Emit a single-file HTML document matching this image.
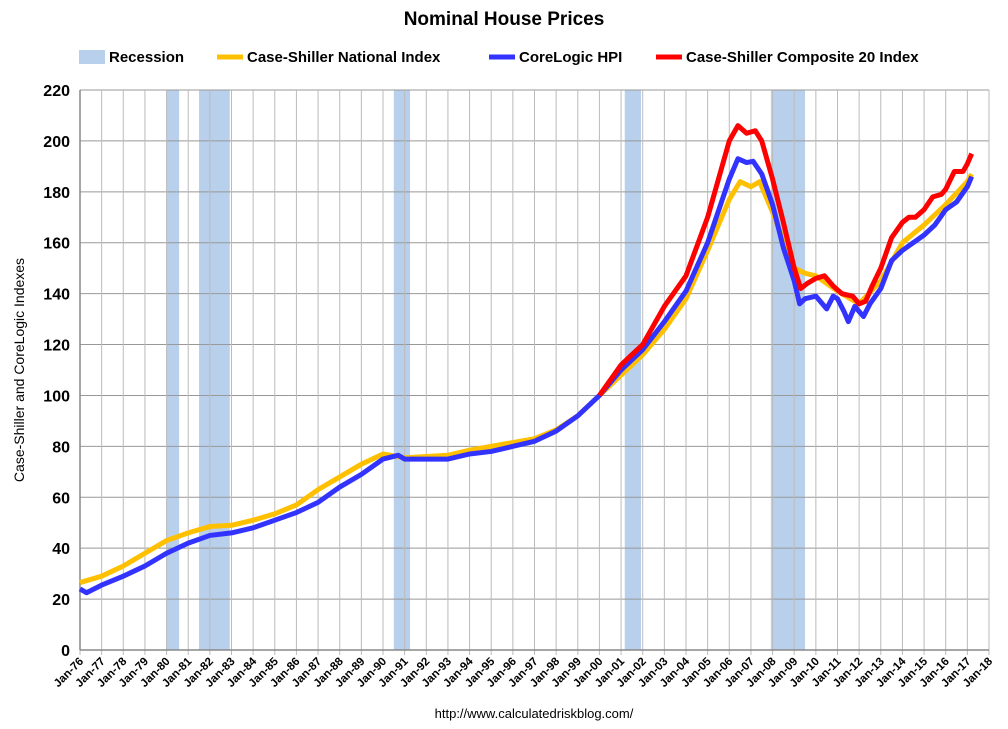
<!DOCTYPE html>
<html><head><meta charset="utf-8"><style>
body{margin:0;background:#fff;font-family:"Liberation Sans",sans-serif}
svg{display:block}
</style></head><body>
<svg id="chart" width="1008" height="729" xmlns="http://www.w3.org/2000/svg" font-family="Liberation Sans, sans-serif">
<text x="504" y="25" text-anchor="middle" font-size="19" font-weight="bold">Nominal House Prices</text>
<g font-size="15" font-weight="bold">
<rect x="79" y="50" width="26" height="14" fill="#b8d0ec"/>
<text x="109" y="62">Recession</text>
<line x1="217" y1="57" x2="243" y2="57" stroke="#ffc000" stroke-width="5"/>
<text x="247" y="62">Case-Shiller National Index</text>
<line x1="489" y1="57" x2="515" y2="57" stroke="#3333ff" stroke-width="5"/>
<text x="519" y="62">CoreLogic HPI</text>
<line x1="656" y1="57" x2="682" y2="57" stroke="#ff0000" stroke-width="5"/>
<text x="686" y="62">Case-Shiller Composite 20 Index</text>
</g>
<text transform="translate(24,370) rotate(-90)" text-anchor="middle" font-size="14">Case-Shiller and CoreLogic Indexes</text>
<text x="534" y="718" text-anchor="middle" font-size="13">http://www.calculatedriskblog.com/</text>
<g id="plot"></g>
</svg>
<script>
const recStart=[1980.0,1981.5,1990.5,2001.17,2007.92];
const recEnd=[1980.58,1982.92,1991.25,2001.92,2009.5];
const natX=[1976,1977,1978,1979,1980,1981,1982,1983,1984,1985,1986,1987,1988,1989,1990,1991,1992,1993,1994,1995,1996,1997,1998,1999,2000,2001,2002,2003,2004,2005,2006,2006.5,2007,2007.4,2008,2009,2009.5,2010,2011,2012,2013,2014,2015,2016,2017,2017.2];
const natY=[26.5,29,33,38,43,46,48.5,49,51,53.5,57,63,68,73,77,75.5,76,76.5,78.5,80,81.5,83,86.5,92,100,108,116,126,138,157,177,184,182,184,172,150,148,147,141,136,145,160,167,175,184,187];
const clX=[1976,1976.3,1977,1978,1979,1980,1981,1982,1983,1984,1985,1986,1987,1988,1989,1990,1990.7,1991,1992,1993,1994,1995,1996,1997,1998,1999,2000,2001,2002,2003,2004,2005,2006,2006.4,2006.8,2007.1,2007.5,2008,2008.5,2009,2009.25,2009.5,2010,2010.5,2010.8,2011,2011.3,2011.5,2011.8,2012,2012.2,2012.5,2013,2013.5,2014,2014.5,2015,2015.5,2016,2016.5,2017,2017.2];
const clY=[24,22.5,25.5,29,33,38,42,45,46,48,51,54,58,64,69,75,76.5,75,75,75,77,78,80,82,86,92,100,110,118,129,141,160,185,193,191.5,192,187,175,158,145,136,138,139,134,139,138,133,129,135,133,131,136,142,153,157,160,163,167,173,176,182,186];
const c20X=[2000,2001,2002,2003,2004,2005,2006,2006.4,2006.8,2007.2,2007.5,2008,2008.5,2009,2009.3,2009.6,2010,2010.4,2010.8,2011.2,2011.7,2012,2012.3,2012.6,2013,2013.5,2014,2014.3,2014.6,2015,2015.4,2015.8,2016,2016.4,2016.8,2017,2017.2];
const c20Y=[100,112,120,135,147,170,200,206,203,204,200,185,168,150,142,144,146,147,143,140,139,136,137,143,150,162,168,170,170,173,178,179,181,188,188,191,195];
const yTicks=[0,20,40,60,80,100,120,140,160,180,200,220];
const xYears=[];for(let y=1976;y<=2018;y++)xYears.push(y);

const L=80,R=989,T=90,B=650,NS="http://www.w3.org/2000/svg";
const sx=v=>L+(v-1976)/(2018-1976)*(R-L);
const sy=v=>B-v/220*(B-T);
const g=document.getElementById('plot');
function mk(t,a){const e=document.createElementNS(NS,t);for(const k in a)e.setAttribute(k,a[k]);g.appendChild(e);return e;}
recStart.forEach((s,i)=>{const r=mk('rect',{x:sx(s),y:T,width:sx(recEnd[i])-sx(s),height:B-T,fill:'#b8d0ec'});

});
yTicks.forEach(v=>{const l=mk('line',{x1:L,x2:R,y1:sy(v),y2:sy(v),stroke:'#999','stroke-width':1});


const t=mk('text',{x:L-10,y:sy(v)+6,'text-anchor':'end','font-size':16,'font-weight':'bold'});t.textContent=v;

});
xYears.forEach(y=>{const x=sx(y);const l=mk('line',{x1:x,x2:x,y1:T,y2:B+5,stroke:'#bbb','stroke-width':1});


const t=mk('text',{transform:`translate(${x+4},${B+12}) rotate(-45)`,'text-anchor':'end','font-size':11.5,'font-weight':'bold'});t.textContent='Jan-'+String(y).slice(2);

});
const ax=mk('line',{x1:L,x2:R,y1:B,y2:B,stroke:'#888','stroke-width':1.5});


const ay=mk('line',{x1:L,x2:L,y1:T,y2:B,stroke:'#888','stroke-width':1.5});


function line(xs,ys,c,n){const p=mk('polyline',{points:xs.map((x,i)=>sx(x)+','+sy(ys[i])).join(' '),fill:'none',stroke:c,'stroke-width':5,'stroke-linejoin':'round'});

}
line(natX,natY,'#ffc000','national-index-line');
line(clX,clY,'#3333ff','corelogic-line');
line(c20X,c20Y,'#ff0000','composite20-line');
</script>
</body></html>
